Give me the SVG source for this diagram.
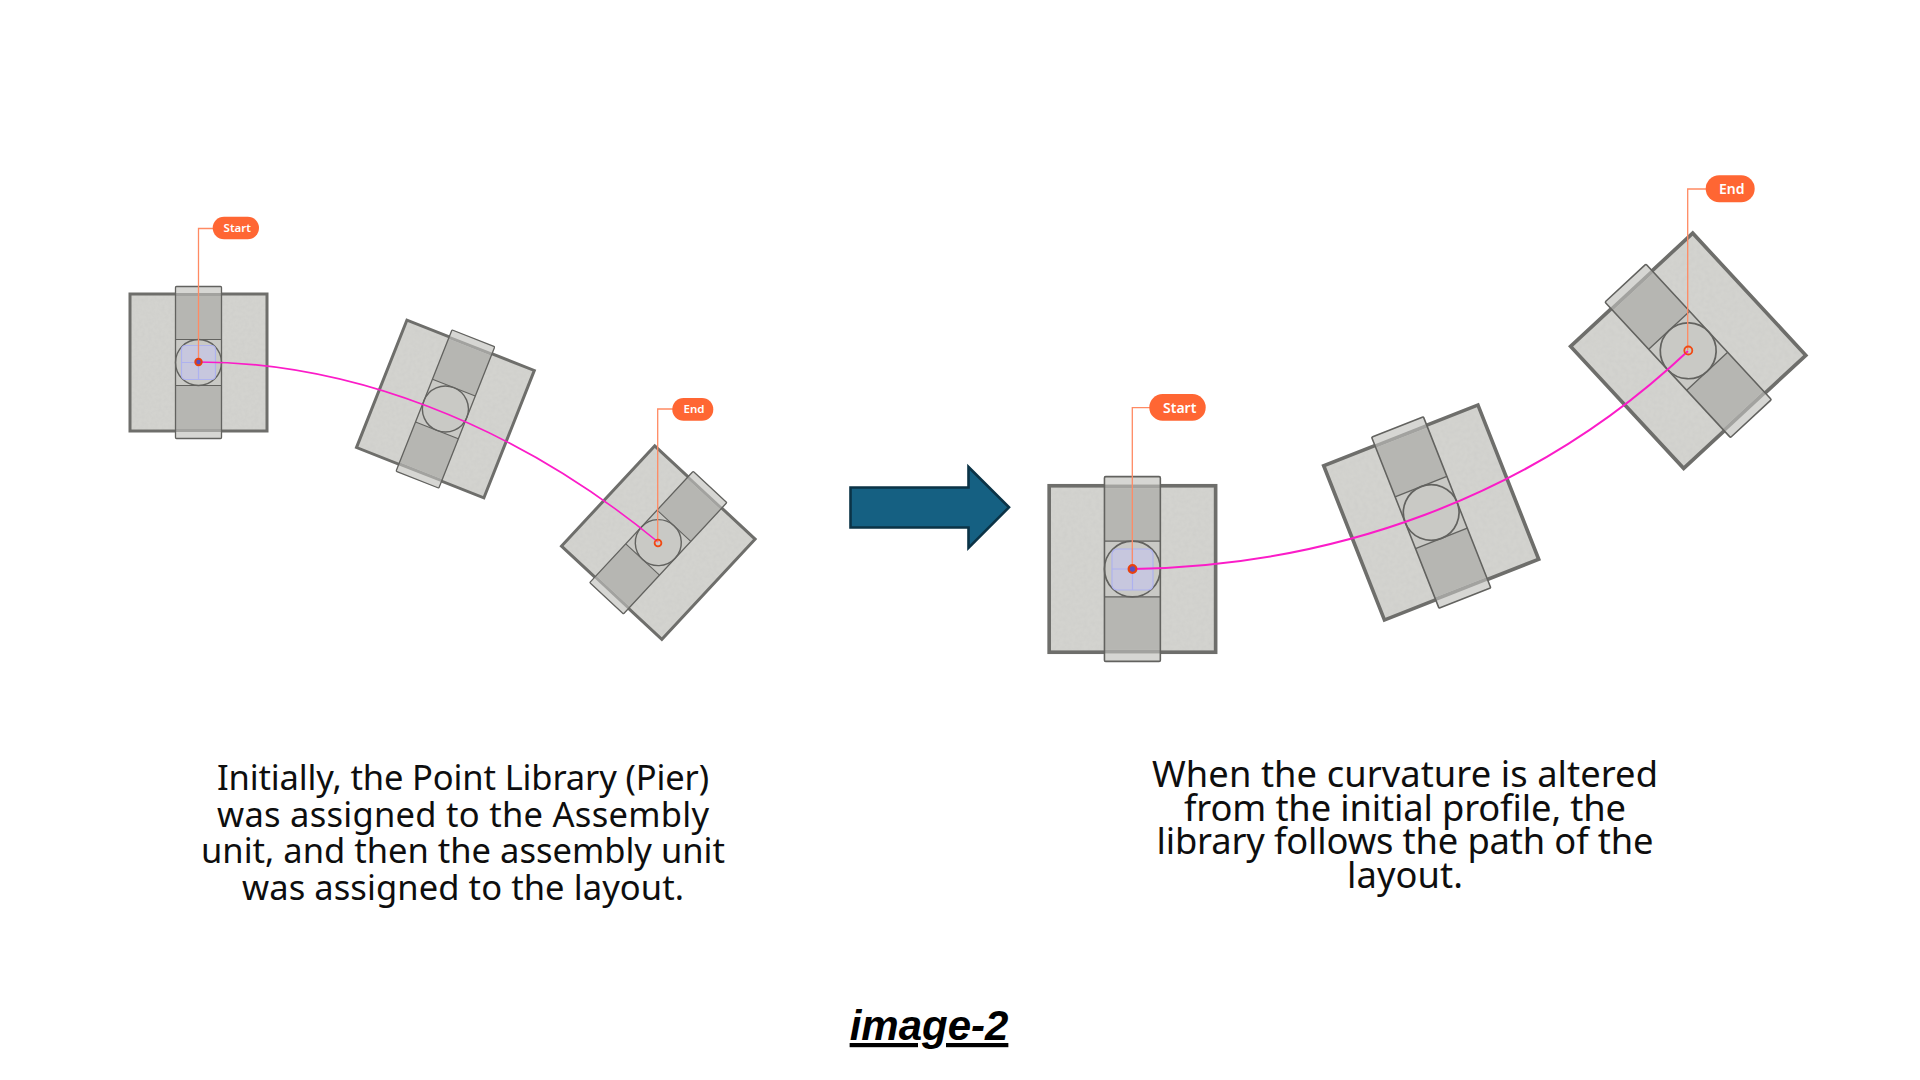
<svg xmlns="http://www.w3.org/2000/svg" xmlns:xlink="http://www.w3.org/1999/xlink" width="1920" height="1080" viewBox="0 0 1920 1080">
<style>
.body{font-family:"Noto Sans","Open Sans","Liberation Sans",sans-serif;font-size:34.5px;fill:#0e0e0e;text-anchor:middle}
.bigger{font-size:36.3px}
.title{font-family:"Liberation Sans",Arial,sans-serif;font-size:42px;font-weight:700;font-style:italic;text-decoration:underline;text-anchor:middle;fill:#000}
.pill{fill:#ff6633}
.lab{font-family:"Noto Sans","Open Sans",sans-serif;font-weight:600;fill:#fff;text-anchor:middle}
.lead{fill:none;stroke:#ff8a63;stroke-width:1.3}
.curve{fill:none;stroke:#fb1cc8}
.mk{fill:none;stroke:#f04a14;stroke-width:1.8}
.grid{fill:#c5c6e6;fill-opacity:.75;stroke:#aeb2ef;stroke-width:1.2}
</style>
<defs>
<filter id="tex" x="0" y="0" width="1" height="1">
<feTurbulence type="fractalNoise" baseFrequency="0.3" numOctaves="2" seed="4" result="n"/>
<feColorMatrix in="n" type="matrix" values="0 0 0 0 0.6  0 0 0 0 0.6  0 0 0 0 0.58  1.1 0 0 0 -0.42" result="s"/>
<feComposite in="s" in2="SourceGraphic" operator="in" result="c"/>
<feMerge><feMergeNode in="SourceGraphic"/><feMergeNode in="c"/></feMerge>
</filter>
<g id="unit">
<rect x="-68.5" y="-68.5" width="137" height="137" fill="#d3d3cf" filter="url(#tex)"/>
<rect x="-68.5" y="-68.5" width="137" height="137" fill="none" stroke="#6e6e6b" stroke-width="3"/>
<rect x="-23" y="-76" width="46" height="152" fill="#cbcbc8"/>
<rect x="-23" y="-76" width="46" height="7" fill="#d6d6d3"/>
<rect x="-23" y="69" width="46" height="7" fill="#d6d6d3"/>
<rect x="-23" y="-69.5" width="46" height="3" fill="#a2a29f"/>
<rect x="-23" y="66.5" width="46" height="3" fill="#a2a29f"/>
<rect x="-23" y="-66.5" width="46" height="43.5" fill="#b6b6b2"/>
<rect x="-23" y="23" width="46" height="43.5" fill="#b6b6b2"/>
<rect x="-23" y="-23" width="46" height="46" fill="#c9c9c5"/>
<rect x="-23" y="-76" width="46" height="152" rx="1" fill="none" stroke="#62625f" stroke-width="1.3"/>
<path d="M-23-23H23M-23 23H23" fill="none" stroke="#62625f" stroke-width="1.1"/>
<circle r="23" fill="none" stroke="#62625f" stroke-width="1.4"/>
</g>
</defs>
<rect width="1920" height="1080" fill="#fff"/>

<g id="unit-a1"><use href="#unit" transform="translate(198.5 362.5)"/>
<rect class="grid" x="181.5" y="345.5" width="34" height="34" rx="4"/><path class="grid" d="M181.5 362.5H215.5M198.5 345.5V379.5"/></g>
<g id="unit-a2"><use href="#unit" transform="translate(445.4 409) rotate(21.6)"/></g>
<g id="unit-a3"><use href="#unit" transform="translate(658.3 542.6) rotate(42.9)"/></g>
<g id="unit-b1"><use href="#unit" transform="translate(1132.4 569) scale(1.215)"/>
<rect class="grid" x="1112" y="549" width="41" height="41" rx="5"/><path class="grid" d="M1112 569H1153M1132.5 549V590"/></g>
<g id="unit-b2"><use href="#unit" transform="translate(1431.2 512.5) rotate(-21.5) scale(1.21)"/></g>
<g id="unit-b3"><use href="#unit" transform="translate(1688.2 350.8) rotate(-42.8) scale(1.215)"/></g>

<g id="connectors">
<path class="curve" stroke-width="1.6" d="M198.5 362C345 362 510 420 658 542"/>
<path class="curve" stroke-width="2" d="M1132.4 569C1330 566 1530 500 1688 351"/>
</g>

<g id="label-start-a">
<path class="lead" d="M198.5 362V228.5H214"/>
<rect class="pill" x="212.7" y="216.7" width="46.3" height="22.6" rx="11.3"/>
<text class="lab" x="237.3" y="232.4" font-size="11.5">Start</text>
<circle cx="198.5" cy="362" r="3.2" fill="#5a4fc0" stroke="#e8410f" stroke-width="2"/>
</g>
<g id="label-end-a">
<path class="lead" d="M657.7 542V409H673"/>
<rect class="pill" x="672.3" y="398" width="41" height="22.7" rx="11.3"/>
<text class="lab" x="694" y="413.4" font-size="11.5">End</text>
<circle class="mk" cx="658" cy="543" r="3.4"/>
</g>
<g id="label-start-b">
<path class="lead" d="M1132.3 569V407.7H1150"/>
<rect class="pill" x="1149.3" y="394" width="56.4" height="26.7" rx="13.3"/>
<text class="lab" x="1179.7" y="412.5" font-size="14">Start</text>
<circle cx="1132.5" cy="569" r="3.8" fill="#5a4fc0" stroke="#e8410f" stroke-width="2.3"/>
</g>
<g id="label-end-b">
<path class="lead" d="M1687.7 350V189H1706"/>
<rect class="pill" x="1705.7" y="175.3" width="49" height="27" rx="13.5"/>
<text class="lab" x="1731.7" y="193.8" font-size="14">End</text>
<circle class="mk" cx="1688.3" cy="350.5" r="4"/>
</g>

<g id="arrow">
<path d="M850.5 487.5H968.5V467L1009 507.3L968.5 547.8V527.5H850.5Z" fill="#156082" stroke="#0b3346" stroke-width="2.6"/>
</g>

<g id="caption-left">
<text class="body" x="463" y="790" textLength="492">Initially, the Point Library (Pier)</text>
<text class="body" x="463" y="826.7" textLength="492">was assigned to the Assembly</text>
<text class="body" x="463" y="863.4" textLength="524">unit, and then the assembly unit</text>
<text class="body" x="463" y="900" textLength="442">was assigned to the layout.</text>
</g>
<g id="caption-right">
<text class="body bigger" x="1405" y="787" textLength="506">When the curvature is altered</text>
<text class="body bigger" x="1405" y="820.6" textLength="442">from the initial profile, the</text>
<text class="body bigger" x="1405" y="854.2" textLength="497">library follows the path of the</text>
<text class="body bigger" x="1405" y="887.8" textLength="116">layout.</text>
</g>
<text id="title" class="title" x="929" y="1040">image-2</text>
</svg>
